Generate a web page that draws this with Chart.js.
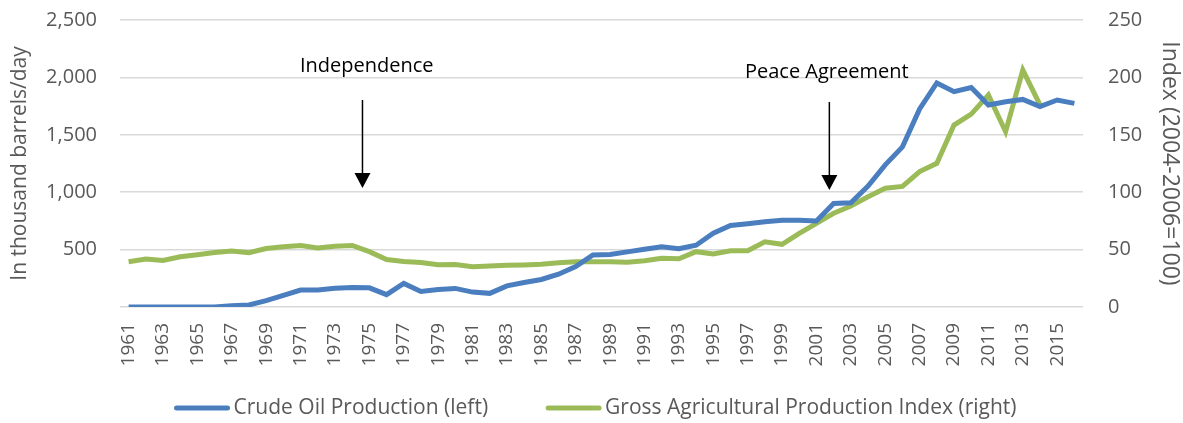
<!DOCTYPE html>
<html>
<head>
<meta charset="utf-8">
<script src="https://cdn.jsdelivr.net/npm/chart.js@4"></script>
<style>
  html, body { margin: 0; padding: 0; background: #fff; }
  #wrap { width: 1183px; height: 423px; position: relative; }
</style>
</head>
<body>
<div id="wrap"><canvas id="chart" width="1183" height="423"></canvas></div>
<script>
'use strict';

const years = [];
for (let y = 1961; y <= 2016; y++) years.push(String(y));

// crude oil production, thousand barrels/day (left axis)
const oilProduction = [
  0, 0, 0, 0, 0, 0, 10, 18, 55, 102,
  148, 148, 163, 170, 167, 108, 205, 135, 152, 162,
  130, 119, 184, 214, 240, 286, 352, 453, 458, 480,
  503, 525, 508, 538, 642, 710, 725, 742, 755, 756,
  750, 902, 908, 1054, 1238, 1395, 1725, 1952, 1876, 1912,
  1760, 1788, 1808, 1745, 1803, 1774
];

// gross agricultural production index, 2004-2006=100 (right axis)
const agriIndex = [
  39.5, 41.8, 40.6, 43.8, 45.6, 47.4, 48.8, 47.3, 50.9, 52.4,
  53.5, 51.4, 53.0, 53.6, 48.2, 41.4, 39.6, 38.7, 36.8, 37.0,
  35.1, 35.7, 36.3, 36.6, 37.2, 38.6, 39.5, 39.5, 39.4, 38.9,
  40.3, 42.4, 42.0, 48.2, 46.2, 49.0, 49.0, 56.8, 54.6, 64.2,
  72.9, 81.6, 88.0, 96.0, 103.4, 105.0, 118.0, 125.2, 158.5, 168.0,
  184.6, 152.7, 206.4, 176.0, null, null
];

const leftTicks = [0, 500, 1000, 1500, 2000, 2500];
const rightTicks = [0, 50, 100, 150, 200, 250];

const annotationLabels = ['Independence', 'Peace Agreement'];
const annotationYears = [1974.6, 2001.75];
const annotationTextYears = [1974.85, 2001.6];

const BLUE = '#4A7EBF';
const GREEN = '#9BBB59';
const TEXT = '#595959';
const FONT = "'Open Sans', sans-serif";

const annotationPlugin = {
  id: 'eventArrows',
  afterDatasetsDraw(chart) {
    const { ctx, scales } = chart;
    const x = scales.x;
    const y = scales.yLeft;
    const px = yr => {
      const idx = yr - 1961;
      const i0 = Math.floor(idx);
      const a = x.getPixelForValue(i0);
      const b = x.getPixelForValue(i0 + 1);
      return a + (b - a) * (idx - i0);
    };
    const textY = [2099, 2047];
    const arrowTop = [1803, 1786];
    const arrowTip = [1037, 1019];
    ctx.save();
    annotationLabels.forEach((label, i) => {
      const ax = px(annotationYears[i]);
      const tx = px(annotationTextYears[i]);
      ctx.fillStyle = '#000';
      ctx.font = `20px ${FONT}`;
      ctx.textAlign = 'center';
      ctx.textBaseline = 'middle';
      ctx.fillText(label, tx, y.getPixelForValue(textY[i]));

      const top = y.getPixelForValue(arrowTop[i]);
      const tip = y.getPixelForValue(arrowTip[i]);
      ctx.strokeStyle = '#000';
      ctx.lineWidth = 1.5;
      ctx.beginPath();
      ctx.moveTo(ax, top);
      ctx.lineTo(ax, tip - 12);
      ctx.stroke();
      ctx.beginPath();
      ctx.moveTo(ax - 8, tip - 15);
      ctx.lineTo(ax + 8, tip - 15);
      ctx.lineTo(ax, tip);
      ctx.closePath();
      ctx.fill();
    });
    ctx.restore();
  }
};

// legend drawn by hand so the spacing matches the original
const legendPlugin = {
  id: 'bottomLegend',
  afterDraw(chart) {
    const { ctx } = chart;
    const lineLen = 55;
    const textGap = 4;
    const itemGap = 58;
    const centerY = chart.height - 15;
    ctx.save();
    ctx.font = `21px ${FONT}`;
    ctx.textBaseline = 'middle';
    ctx.textAlign = 'left';
    const items = chart.data.datasets.map(ds => ({
      label: ds.label,
      color: ds.borderColor,
      w: lineLen + textGap + ctx.measureText(ds.label).width
    }));
    const total = items.reduce((s, it) => s + it.w, 0) + itemGap * (items.length - 1);
    let x = chart.width / 2 + 4 - total / 2;
    items.forEach(it => {
      ctx.strokeStyle = it.color;
      ctx.lineWidth = 5;
      ctx.lineCap = 'round';
      ctx.beginPath();
      ctx.moveTo(x + 2, centerY);
      ctx.lineTo(x + lineLen - 2, centerY);
      ctx.stroke();
      ctx.fillStyle = TEXT;
      ctx.fillText(it.label, x + lineLen + textGap, centerY);
      x += it.w + itemGap;
    });
    ctx.restore();
  }
};

// keep the plot area exactly where the original has it
function fixWidth(w) {
  return scale => {
    scale.width = w;
    scale.paddingTop = 0;
    scale.paddingBottom = 0;
  };
}

new Chart(document.getElementById('chart').getContext('2d'), {
  type: 'line',
  data: {
    labels: years,
    datasets: [
      {
        label: 'Crude Oil Production (left)',
        data: oilProduction,
        borderColor: BLUE,
        backgroundColor: BLUE,
        borderWidth: 5,
        pointRadius: 0,
        tension: 0,
        yAxisID: 'yLeft'
      },
      {
        label: 'Gross Agricultural Production Index (right)',
        data: agriIndex,
        borderColor: GREEN,
        backgroundColor: GREEN,
        borderWidth: 5,
        pointRadius: 0,
        tension: 0,
        spanGaps: false,
        yAxisID: 'yRight'
      }
    ]
  },
  options: {
    responsive: false,
    animation: false,
    layout: { padding: { top: 20, left: 0, right: 0, bottom: 36 } },
    plugins: {
      legend: { display: false },
      tooltip: { enabled: false }
    },
    scales: {
      x: {
        offset: true,
        grid: { display: false },
        border: { display: false },
        ticks: {
          color: TEXT,
          font: { family: FONT, size: 19 },
          autoSkip: false,
          minRotation: 90,
          maxRotation: 90,
          padding: 8,
          callback(value, index) {
            return index % 2 === 0 ? years[index] : '';
          }
        },
        afterFit(scale) {
          scale.height = 80;
          scale.paddingLeft = 0;
          scale.paddingRight = 0;
        }
      },
      yLeft: {
        position: 'left',
        min: leftTicks[0],
        max: leftTicks[leftTicks.length - 1],
        afterBuildTicks(scale) {
          scale.ticks = leftTicks.map(v => ({ value: v }));
        },
        grid: { color: '#D9D9D9', lineWidth: 1.5, drawTicks: false },
        border: { display: false },
        ticks: {
          color: TEXT,
          font: { family: FONT, size: 20 },
          padding: 23,
          callback: v => (v === 0 ? '' : v.toLocaleString('en-US'))
        },
        title: {
          display: true,
          text: 'In thousand barrels/day',
          color: TEXT,
          font: { family: FONT, size: 21 },
          padding: { top: 7, bottom: 0 }
        },
        afterFit: fixWidth(120)
      },
      yRight: {
        position: 'right',
        min: rightTicks[0],
        max: rightTicks[rightTicks.length - 1],
        afterBuildTicks(scale) {
          scale.ticks = rightTicks.map(v => ({ value: v }));
        },
        grid: { display: false, drawTicks: false },
        border: { display: false },
        ticks: {
          color: TEXT,
          font: { family: FONT, size: 20 },
          padding: 25
        },
        title: {
          display: true,
          text: 'Index (2004-2006=100)',
          color: TEXT,
          font: { family: FONT, size: 23 },
          padding: { top: 0, bottom: 0 }
        },
        afterFit: fixWidth(100)
      }
    }
  },
  plugins: [annotationPlugin, legendPlugin]
});
</script>
</body>
</html>
